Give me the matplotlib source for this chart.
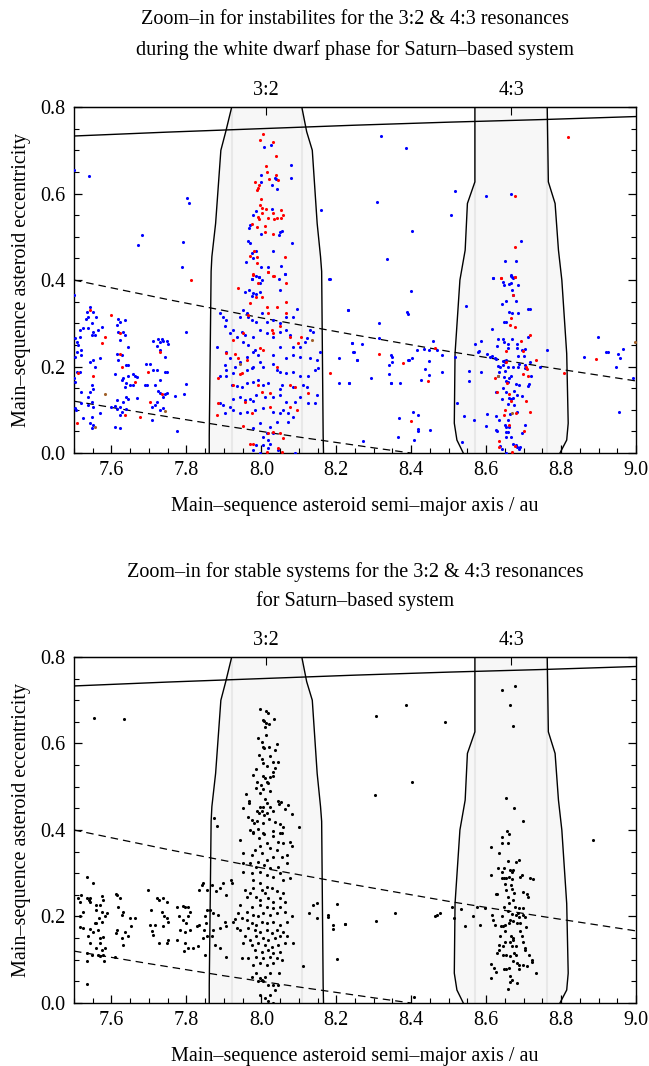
import numpy as np
import matplotlib
matplotlib.use('Agg')
import matplotlib.pyplot as plt
from matplotlib.ticker import MultipleLocator

plt.rcParams['font.family'] = ['Liberation Serif', 'DejaVu Serif']
plt.rcParams['mathtext.fontset'] = 'stix'

# ---- guide curves (semi-major axis / au, eccentricity) ----
peri_a = [7.5, 7.75, 8.0, 8.25, 8.5, 8.75, 9.0]
peri_e = [0.733, 0.742, 0.750, 0.758, 0.765, 0.771, 0.778]
apo_hi_a = [7.5, 7.75, 8.0, 8.25, 8.5, 8.75, 9.0]
apo_hi_e = [0.400, 0.355, 0.3125, 0.273, 0.235, 0.200, 0.1667]
apo_lo_a = [7.5, 7.7, 7.9, 8.1, 8.3, 8.4]
apo_lo_e = [0.120, 0.091, 0.063, 0.037, 0.012, 0.0]

# ---- resonance regions ----
res32_e = [0.0, 0.04, 0.42, 0.454, 0.531, 0.70, 0.743, 0.80]
res32_left = [7.861, 7.861, 7.866, 7.868, 7.878, 7.892, 7.905, 7.921]
res32_right = [8.166, 8.165, 8.161, 8.158, 8.149, 8.136, 8.121, 8.108]
res43_e = [0.0, 0.03, 0.069, 0.23, 0.40, 0.469, 0.577, 0.627, 0.80]
res43_left = [8.539, 8.522, 8.515, 8.517, 8.530, 8.544, 8.550, 8.570, 8.570]
res43_right = [8.797, 8.815, 8.819, 8.815, 8.802, 8.793, 8.784, 8.766, 8.763]
res_centre = [8.012, 8.667]
res_labels = ['3:2', '4:3']

# ---- top panel: unstable during white dwarf phase ----
top_blue = [
  (7.500,0.365),(7.534,0.327),(7.543,0.338),(7.538,0.315),(7.551,0.327),(7.559,0.315),(7.532,0.311),
  (7.525,0.288),(7.516,0.284),(7.547,0.300),(7.538,0.288),(7.551,0.280),(7.565,0.284),(7.576,0.292),
  (7.547,0.273),(7.556,0.273),(7.516,0.269),(7.503,0.265),(7.507,0.257),(7.511,0.250),(7.520,0.238),
  (7.507,0.234),(7.503,0.223),(7.520,0.226),(7.551,0.215),(7.543,0.211),(7.569,0.219),(7.556,0.200),
  (7.507,0.188),(7.516,0.188),(7.500,0.173),(7.503,0.165),(7.547,0.157),(7.550,0.149),(7.520,0.142),
  (7.543,0.142),(7.538,0.130),(7.547,0.119),(7.520,0.115),(7.538,0.111),(7.551,0.107),(7.503,0.103),
  (7.505,0.099),(7.525,0.080),(7.547,0.084),(7.543,0.069),(7.551,0.065),(7.547,0.057),(7.569,0.092),
  (7.618,0.311),(7.623,0.304),(7.636,0.307),(7.614,0.296),(7.618,0.280),(7.631,0.280),(7.636,0.273),
  (7.623,0.261),(7.645,0.246),(7.614,0.230),(7.627,0.226),(7.618,0.216),(7.640,0.203),(7.645,0.203),
  (7.609,0.183),(7.631,0.173),(7.645,0.178),(7.658,0.183),(7.663,0.177),(7.667,0.175),(7.627,0.169),
  (7.640,0.161),(7.649,0.157),(7.636,0.152),(7.658,0.157),(7.614,0.122),(7.631,0.119),(7.640,0.130),
  (7.645,0.126),(7.667,0.128),(7.600,0.107),(7.609,0.109),(7.623,0.106),(7.614,0.101),(7.627,0.095),
  (7.640,0.101),(7.623,0.088),(7.609,0.061),(7.623,0.057),
  (7.710,0.260),(7.725,0.263),(7.734,0.263),(7.738,0.260),(7.747,0.260),(7.729,0.257),(7.752,0.252),
  (7.721,0.247),(7.729,0.238),(7.743,0.221),(7.692,0.205),(7.703,0.206),(7.712,0.193),(7.721,0.192),
  (7.743,0.188),(7.747,0.188),(7.689,0.157),(7.694,0.157),(7.729,0.169),(7.716,0.157),(7.725,0.144),
  (7.729,0.139),(7.743,0.136),(7.747,0.138),(7.769,0.132),(7.738,0.130),(7.707,0.107),(7.716,0.111),
  (7.721,0.119),(7.707,0.076),(7.729,0.099),(7.738,0.103),(7.774,0.051),(7.794,0.136),(7.799,0.159),
  (7.799,0.281),
  (7.974,0.402),(7.987,0.409),(7.995,0.406),(8.001,0.400),(7.996,0.392),(8.063,0.415),(8.050,0.378),
  (7.956,0.373),(7.968,0.377),(7.979,0.371),(7.974,0.363),(7.987,0.368),(7.996,0.373),(7.952,0.331),
  (7.961,0.324),(7.943,0.315),(7.965,0.315),(7.974,0.307),(7.987,0.304),(8.001,0.323),(8.014,0.304),
  (8.032,0.307),(8.050,0.300),(8.067,0.315),(8.085,0.315),(8.094,0.334),(7.890,0.324),(7.899,0.315),
  (7.907,0.307),(7.903,0.294),(7.925,0.284),(7.916,0.277),(7.934,0.269),(7.948,0.280),(7.956,0.273),
  (7.952,0.257),(7.965,0.250),(7.979,0.269),(7.996,0.284),(8.014,0.277),(8.032,0.269),(8.050,0.280),
  (8.067,0.284),(8.076,0.273),(8.085,0.246),(8.103,0.246),(8.121,0.265),(8.130,0.284),(8.139,0.280),
  (8.117,0.257),(7.881,0.246),(7.907,0.234),(7.916,0.219),(7.903,0.203),(7.907,0.192),(7.930,0.200),
  (7.943,0.211),(7.961,0.223),(7.979,0.234),(7.992,0.226),(7.983,0.238),(7.996,0.211),(8.005,0.200),
  (8.032,0.226),(8.050,0.246),(8.067,0.219),(8.085,0.226),(8.103,0.223),(8.130,0.219),(8.148,0.215),
  (8.156,0.234),(7.890,0.177),(7.907,0.178),(7.925,0.184),(7.961,0.192),(7.974,0.196),(7.979,0.198),
  (8.032,0.207),(8.041,0.192),(8.050,0.188),(8.067,0.184),(8.085,0.188),(8.103,0.177),(8.125,0.178),
  (8.143,0.192),(8.152,0.196),(7.921,0.157),(7.934,0.155),(7.948,0.153),(7.961,0.161),(7.979,0.165),
  (7.992,0.169),(8.005,0.157),(8.019,0.163),(8.050,0.149),(8.054,0.157),(8.085,0.152),(8.112,0.157),
  (8.121,0.153),(7.890,0.115),(7.899,0.111),(7.916,0.107),(7.925,0.126),(7.943,0.129),(7.956,0.122),
  (7.970,0.126),(7.979,0.121),(7.987,0.134),(8.010,0.130),(8.032,0.130),(8.050,0.134),(8.067,0.119),
  (8.090,0.119),(8.103,0.130),(8.125,0.115),(8.143,0.115),(8.148,0.134),(7.903,0.092),(7.925,0.099),
  (7.943,0.092),(7.961,0.095),(7.983,0.099),(8.005,0.103),(8.032,0.095),(8.050,0.092),(8.059,0.099),
  (8.072,0.092),(8.085,0.084),(8.072,0.072),(8.041,0.072),(8.023,0.061),(7.996,0.070),(7.979,0.057),
  (8.014,0.046),(8.005,0.038),(8.019,0.030),(7.987,0.019),(8.005,0.019),(7.979,0.007),(7.996,0.001),
  (8.019,0.011),(8.045,0.007),(8.090,0.001),(8.023,0.022),(8.032,0.046),
  (8.181,0.402),(8.232,0.331),(8.241,0.254),(8.245,0.234),(8.254,0.215),(8.208,0.219),(8.206,0.161),
  (8.235,0.161),
  (7.500,0.654),(7.541,0.641),(7.681,0.504),(7.672,0.481),(7.801,0.590),(7.808,0.579),(7.790,0.487),
  (7.789,0.431),(8.008,0.708),(8.025,0.712),(8.078,0.665),(8.078,0.635),(8.000,0.644),(8.000,0.626),
  (8.036,0.637),(8.038,0.633),(8.028,0.620),(8.043,0.610),(7.986,0.560),(8.028,0.564),(7.977,0.550),
  (7.970,0.527),(7.968,0.521),(7.998,0.506),(8.050,0.512),(8.056,0.514),(8.047,0.504),(8.083,0.485),
  (7.965,0.491),(7.970,0.486),(7.976,0.463),(7.979,0.451),(7.986,0.468),(8.030,0.467),(7.960,0.442),
  (7.998,0.429),(8.019,0.429),(8.053,0.432),(8.063,0.415),(7.974,0.402),(7.994,0.406),(8.047,0.402),
  (8.159,0.562),(8.182,0.402),
  (8.319,0.733),(8.387,0.705),(8.516,0.607),(8.310,0.580),(8.599,0.594),(8.667,0.599),(8.506,0.550),
  (8.403,0.513),(8.693,0.490),(8.335,0.449),(8.649,0.444),(8.680,0.443),(8.618,0.404),(8.667,0.411),
  (8.671,0.405),
  (8.232,0.331),(8.242,0.254),(8.247,0.233),(8.254,0.215),(8.270,0.252),(8.235,0.161),(8.292,0.173),
  (8.315,0.301),(8.315,0.265),(8.342,0.204),(8.346,0.227),(8.350,0.223),(8.350,0.211),(8.342,0.183),
  (8.345,0.163),(8.345,0.161),(8.370,0.163),(8.399,0.375),(8.389,0.327),(8.392,0.321),(8.391,0.215),
  (8.394,0.214),(8.401,0.219),(8.415,0.238),(8.435,0.240),(8.448,0.239),(8.458,0.260),(8.447,0.213),
  (8.437,0.194),(8.448,0.181),(8.425,0.169),(8.481,0.227),(8.483,0.188),(8.469,0.238),(8.367,0.080),
  (8.365,0.036),(8.404,0.095),(8.417,0.089),(8.418,0.056),(8.418,0.050),(8.450,0.054),(8.408,0.030),
  (8.272,0.028),
  (8.546,0.341),(8.517,0.223),(8.523,0.116),(8.540,0.086),(8.535,0.026),(8.568,0.076),(8.555,0.190),
  (8.553,0.167),(8.570,0.251),(8.586,0.258),(8.578,0.234),(8.582,0.235),(8.585,0.187),(8.601,0.091),
  (8.600,0.063),(8.602,0.229),
  (8.618,0.404),(8.647,0.388),(8.646,0.396),(8.666,0.410),(8.670,0.406),(8.661,0.391),(8.666,0.392),
  (8.684,0.388),(8.669,0.377),(8.672,0.365),(8.653,0.351),(8.681,0.351),(8.641,0.344),(8.661,0.327),
  (8.670,0.324),(8.684,0.324),(8.711,0.333),(8.718,0.332),(8.648,0.304),(8.653,0.302),(8.616,0.287),
  (8.632,0.263),(8.644,0.264),(8.648,0.257),(8.669,0.263),(8.659,0.251),(8.683,0.252),(8.657,0.244),
  (8.682,0.244),(8.711,0.268),(8.628,0.247),(8.695,0.238),(8.705,0.240),(8.702,0.225),(8.623,0.219),
  (8.627,0.217),(8.610,0.222),(8.616,0.224),(8.644,0.213),(8.651,0.210),(8.652,0.215),(8.645,0.203),
  (8.632,0.201),(8.637,0.198),(8.658,0.198),(8.673,0.200),(8.686,0.224),(8.689,0.207),(8.684,0.200),
  (8.705,0.204),(8.717,0.211),(8.744,0.198),(8.763,0.238),(8.705,0.197),(8.635,0.188),(8.650,0.190),
  (8.631,0.179),(8.647,0.175),(8.662,0.174),(8.667,0.178),(8.654,0.167),(8.658,0.165),(8.720,0.179),
  (8.644,0.150),(8.681,0.160),(8.687,0.157),(8.715,0.159),(8.711,0.156),(8.625,0.142),(8.654,0.140),
  (8.675,0.144),(8.683,0.134),(8.695,0.132),(8.641,0.124),(8.661,0.127),(8.667,0.125),(8.672,0.127),
  (8.658,0.113),(8.675,0.112),(8.682,0.095),(8.665,0.090),(8.625,0.086),(8.634,0.076),(8.659,0.077),
  (8.650,0.066),(8.653,0.061),(8.662,0.061),(8.703,0.066),(8.625,0.053),(8.628,0.052),(8.653,0.048),
  (8.658,0.048),(8.696,0.047),(8.652,0.038),(8.666,0.036),(8.673,0.021),(8.679,0.019),(8.683,0.015),
  (8.687,0.010),(8.690,0.013),(8.636,0.016),(8.652,0.001),(8.642,0.010),
  (8.862,0.223),(8.898,0.268),(8.920,0.233),(8.926,0.233),(8.952,0.228),(8.957,0.219),(8.964,0.241),
  (8.947,0.200),(8.993,0.174),(8.955,0.095),
]
top_red = [
  (7.543,0.331),(7.576,0.255),(7.511,0.186),(7.551,0.177),(7.583,0.269),(7.507,0.070),
  (7.600,0.319),(7.623,0.277),(7.623,0.230),(7.627,0.200),(7.636,0.088),(7.676,0.083),(7.663,0.165),
  (7.729,0.234),(7.698,0.188),(7.734,0.136),(7.811,0.400),(7.703,0.119),
  (7.979,0.411),(7.992,0.392),(8.019,0.419),(8.032,0.409),(8.067,0.392),(7.939,0.381),(7.987,0.360),
  (7.970,0.346),(8.001,0.361),(8.019,0.324),(8.014,0.338),(8.065,0.350),(8.041,0.338),(8.067,0.324),
  (7.965,0.319),(7.925,0.261),(7.952,0.277),(7.996,0.242),(8.005,0.238),(8.032,0.277),(8.028,0.284),
  (8.050,0.293),(8.076,0.269),(8.107,0.269),(8.099,0.254),(7.907,0.232),(7.930,0.230),(7.939,0.219),
  (7.961,0.215),(7.948,0.184),(8.041,0.200),(7.885,0.173),(7.925,0.157),(7.992,0.157),(8.001,0.142),
  (8.023,0.138),(8.076,0.157),(8.090,0.153),(8.125,0.139),(7.943,0.183),(7.881,0.088),(7.885,0.115),
  (7.956,0.119),(7.974,0.092),(8.023,0.107),(8.076,0.107),(8.094,0.099),(7.952,0.062),(8.019,0.047),
  (8.032,0.049),(8.050,0.046),(8.059,0.034),(7.970,0.022),(7.979,0.021),(8.014,0.003),(8.045,0.011),
  (8.054,0.003),(8.183,0.184),
  (8.005,0.738),(7.997,0.724),(8.030,0.718),(8.038,0.687),(8.012,0.663),(8.016,0.650),(8.021,0.634),
  (8.039,0.642),(8.044,0.632),(7.984,0.627),(7.993,0.619),(7.991,0.612),(7.988,0.609),(8.000,0.588),
  (7.997,0.573),(8.003,0.567),(8.012,0.565),(8.002,0.556),(8.030,0.556),(8.052,0.562),(8.057,0.550),
  (7.992,0.546),(7.995,0.541),(8.019,0.543),(8.033,0.541),(8.041,0.543),(8.053,0.543),(7.974,0.529),
  (7.988,0.522),(8.011,0.526),(8.009,0.512),(8.030,0.506),(8.064,0.454),(7.980,0.468),(7.970,0.456),
  (7.988,0.454),(7.988,0.440),(8.018,0.419),(7.979,0.413),(8.033,0.409),
  (8.818,0.731),(8.678,0.594),(8.676,0.477),(8.640,0.404),(8.676,0.408),
  (8.315,0.228),(8.377,0.209),(8.446,0.167),(8.399,0.075),(8.463,0.242),(8.640,0.405),(8.677,0.408),
  (8.671,0.366),(8.667,0.313),(8.665,0.295),(8.677,0.291),(8.716,0.274),(8.694,0.258),(8.653,0.236),
  (8.698,0.236),(8.654,0.211),(8.734,0.215),(8.706,0.200),(8.710,0.194),(8.712,0.179),(8.698,0.183),
  (8.624,0.173),(8.655,0.163),(8.628,0.142),(8.662,0.136),(8.666,0.121),(8.706,0.120),(8.649,0.100),
  (8.680,0.093),(8.648,0.087),(8.662,0.064),(8.700,0.050),(8.633,0.027),(8.635,0.013),(8.669,0.003),
  (8.677,0.016),(8.807,0.184),(8.892,0.218),(8.717,0.096),
]
top_brown = [(7.583,0.136),(7.556,0.061),(7.743,0.098),(7.943,0.206),(8.134,0.261),
             (8.632,0.178),(8.669,0.093),(8.998,0.256)]

# ---- bottom panel: stable systems ----
bot_black = [
  (7.554,0.660),(7.633,0.656),
  (7.997,0.679),(8.012,0.674),(8.019,0.671),(8.004,0.654),(8.007,0.651),(8.013,0.647),(8.021,0.645),
  (8.034,0.657),(8.010,0.637),(8.013,0.620),(7.992,0.612),(8.001,0.604),(8.043,0.599),(8.005,0.591),
  (8.008,0.589),(8.020,0.591),(8.037,0.585),(7.995,0.574),(8.001,0.564),(8.023,0.571),(8.005,0.556),
  (8.030,0.557),(8.045,0.557),(8.016,0.547),(8.037,0.544),(8.032,0.535),(7.986,0.541),(7.979,0.527),
  (8.004,0.524),(8.009,0.521),(8.023,0.522),(7.989,0.512),(8.014,0.512),(8.019,0.508),(7.999,0.503),
  (8.032,0.524),(7.986,0.497),(8.005,0.495),(8.023,0.491),(7.996,0.485),(7.959,0.484),(8.010,0.471),
  (8.014,0.462),(7.967,0.468),(7.968,0.462),(8.045,0.467),(8.052,0.464),(8.048,0.461),(8.072,0.457),
  (7.952,0.450),(7.996,0.452),(8.005,0.454),(8.023,0.452),(8.032,0.444),(8.063,0.448),(8.083,0.437),
  (7.989,0.443),(7.995,0.439),(8.002,0.443),(8.007,0.435),(8.014,0.439),(7.965,0.430),(7.974,0.423),
  (7.980,0.417),(7.988,0.420),(8.004,0.416),(8.021,0.425),(8.037,0.418),(8.050,0.414),(8.059,0.408),
  (8.101,0.407),(7.873,0.427),(7.883,0.410),(7.979,0.396),(7.992,0.402),(8.005,0.393),(8.032,0.397),
  (8.054,0.393),
  (7.534,0.292),(7.550,0.277),(7.511,0.242),(7.520,0.250),(7.516,0.234),(7.534,0.242),(7.541,0.238),
  (7.544,0.242),(7.543,0.234),(7.560,0.227),(7.569,0.227),(7.576,0.248),(7.578,0.238),(7.559,0.215),
  (7.574,0.211),(7.587,0.208),(7.583,0.200),(7.568,0.196),(7.516,0.201),(7.525,0.211),(7.556,0.184),
  (7.560,0.184),(7.574,0.188),(7.516,0.175),(7.523,0.173),(7.543,0.171),(7.551,0.165),(7.565,0.169),
  (7.538,0.155),(7.569,0.150),(7.578,0.152),(7.543,0.138),(7.569,0.138),(7.583,0.127),(7.560,0.127),
  (7.574,0.123),(7.536,0.115),(7.547,0.111),(7.565,0.111),(7.569,0.109),(7.578,0.111),(7.534,0.096),
  (7.580,0.096),(7.536,0.044),
  (7.612,0.252),(7.616,0.250),(7.623,0.242),(7.618,0.223),(7.631,0.211),(7.629,0.204),(7.649,0.196),
  (7.663,0.196),(7.614,0.169),(7.612,0.161),(7.636,0.165),(7.627,0.150),(7.651,0.177),(7.645,0.154),
  (7.630,0.134),(7.609,0.107),
  (7.698,0.261),(7.705,0.214),(7.704,0.181),(7.716,0.181),(7.707,0.167),(7.712,0.157),(7.728,0.138),
  (7.721,0.242),(7.728,0.238),(7.738,0.242),(7.749,0.234),(7.734,0.211),(7.740,0.200),(7.747,0.196),
  (7.737,0.177),(7.752,0.188),(7.749,0.138),(7.752,0.146),
  (7.776,0.221),(7.790,0.224),(7.796,0.223),(7.805,0.221),(7.810,0.211),(7.805,0.200),(7.779,0.200),
  (7.790,0.192),(7.799,0.184),(7.783,0.169),(7.796,0.165),(7.810,0.169),(7.776,0.146),(7.796,0.138),
  (7.794,0.121),(7.805,0.127),(7.818,0.127),(7.827,0.177),(7.834,0.181),(7.832,0.132),(7.834,0.261),
  (7.841,0.273),(7.845,0.278),(7.854,0.261),(7.850,0.111),(7.854,0.215),(7.850,0.200),(7.852,0.184),
  (7.847,0.169),(7.854,0.154),(7.843,0.150),
  (7.868,0.273),(7.879,0.258),(7.890,0.265),(7.899,0.277),(7.918,0.285),(7.921,0.277),(7.907,0.250),
  (7.863,0.215),(7.872,0.208),(7.885,0.204),(7.903,0.188),(7.907,0.177),(7.890,0.173),(7.872,0.169),
  (7.868,0.154),(7.876,0.134),(7.890,0.127),(7.907,0.107),(7.925,0.188),(7.930,0.194),(7.943,0.377),
  (7.950,0.346),(7.952,0.323),(7.950,0.304),(7.956,0.261),(7.961,0.246),(7.943,0.227),(7.939,0.208),
  (7.948,0.196),(7.934,0.173),(7.943,0.169),
  (7.970,0.400),(7.979,0.392),(7.995,0.381),(8.007,0.391),(8.032,0.386),(8.050,0.394),(8.045,0.373),
  (8.014,0.369),(7.996,0.362),(7.983,0.354),(8.001,0.346),(8.023,0.358),(8.041,0.354),(8.059,0.369),
  (8.076,0.373),(8.081,0.362),(8.068,0.342),(8.054,0.338),(8.032,0.338),(8.014,0.331),(7.992,0.327),
  (7.974,0.342),(7.970,0.323),(7.987,0.315),(8.007,0.319),(8.023,0.311),(8.045,0.315),(8.068,0.323),
  (8.050,0.300),(8.032,0.292),(8.014,0.296),(7.996,0.304),(7.974,0.300),(8.076,0.288),(8.059,0.285),
  (7.979,0.285),(7.996,0.277),(8.014,0.269),(8.001,0.261),(8.010,0.254),(8.028,0.265),(8.041,0.258),
  (8.059,0.254),(7.979,0.265),(7.970,0.254),(7.987,0.246),(7.996,0.238),(8.019,0.242),(8.032,0.234),
  (8.050,0.242),(8.063,0.234),(8.050,0.223),(8.032,0.219),(8.014,0.223),(7.996,0.227),(7.974,0.223),
  (7.961,0.211),(7.979,0.204),(7.992,0.200),(8.005,0.208),(8.023,0.204),(8.041,0.208),(8.063,0.211),
  (8.081,0.200),(7.961,0.192),(7.974,0.184),(7.987,0.181),(8.001,0.188),(8.014,0.184),(8.032,0.188),
  (8.050,0.181),(8.068,0.188),(7.965,0.173),(7.983,0.169),(7.996,0.165),(8.014,0.169),(8.028,0.161),
  (8.041,0.169),(8.059,0.165),(8.068,0.154),(8.050,0.154),(8.036,0.150),(8.019,0.146),(8.005,0.150),
  (7.987,0.154),(7.970,0.146),(7.956,0.154),(7.952,0.138),(7.974,0.134),(7.992,0.138),(8.010,0.134),
  (8.028,0.130),(8.045,0.134),(8.063,0.138),(8.085,0.138),(7.983,0.123),(8.001,0.119),(8.019,0.123),
  (8.032,0.115),(8.050,0.119),(7.948,0.104),(7.965,0.104),(7.987,0.107),(8.005,0.104),(8.023,0.107),
  (8.041,0.104),(8.054,0.100),(7.979,0.088),(7.996,0.092),(8.014,0.088),(8.032,0.092),(7.974,0.061),
  (7.987,0.069),(7.996,0.057),(8.001,0.054),(8.010,0.061),(8.023,0.069),(7.992,0.050),(8.005,0.050),
  (8.019,0.042),(8.032,0.042),(8.045,0.042),(8.036,0.030),(8.023,0.019),(7.996,0.019),(8.010,0.011),
  (8.019,0.004),(8.032,0.001),(8.112,0.086),(8.048,0.069),
  (8.128,0.209),(8.139,0.227),(8.149,0.231),(8.148,0.196),(8.179,0.204),(8.179,0.198),(8.203,0.229),
  (8.192,0.181),(8.222,0.182),(8.190,0.171),(8.201,0.102),
  (8.305,0.664),(8.386,0.689),(8.491,0.649),(8.643,0.724),(8.676,0.732),(8.664,0.688),(8.673,0.640),
  (8.403,0.511),(8.304,0.482),(8.653,0.474),(8.675,0.450),(8.698,0.420),(8.885,0.377),
  (8.656,0.397),(8.660,0.390),(8.643,0.383),(8.643,0.370),(8.657,0.370),(8.614,0.361),(8.635,0.346),
  (8.659,0.329),(8.687,0.330),(8.681,0.325),(8.632,0.312),(8.647,0.313),(8.641,0.303),(8.664,0.308),
  (8.672,0.308),(8.668,0.303),(8.613,0.296),(8.695,0.296),(8.691,0.291),(8.641,0.288),(8.647,0.289),
  (8.652,0.290),(8.662,0.291),(8.669,0.286),(8.716,0.289),(8.726,0.286),(8.651,0.275),(8.666,0.272),
  (8.668,0.264),(8.652,0.262),(8.625,0.253),(8.630,0.251),(8.659,0.246),(8.675,0.254),(8.699,0.256),
  (8.710,0.253),(8.711,0.246),(8.673,0.239),(8.662,0.231),(8.647,0.223),(8.678,0.221),(8.687,0.219),
  (8.698,0.219),(8.508,0.223),(8.533,0.217),(8.564,0.202),(8.598,0.219),(8.575,0.223),(8.463,0.200),
  (8.468,0.204),(8.477,0.208),(8.357,0.208),(8.305,0.190),(8.222,0.182),(8.514,0.196),(8.544,0.179),
  (8.584,0.181),(8.615,0.204),(8.619,0.192),(8.624,0.181),(8.643,0.200),(8.659,0.212),(8.669,0.206),
  (8.681,0.204),(8.685,0.208),(8.689,0.199),(8.699,0.203),(8.705,0.199),(8.707,0.175),(8.664,0.192),
  (8.673,0.189),(8.661,0.185),(8.640,0.177),(8.645,0.179),(8.651,0.180),(8.691,0.186),(8.682,0.185),
  (8.691,0.166),(8.651,0.166),(8.636,0.154),(8.667,0.154),(8.671,0.150),(8.695,0.154),(8.649,0.142),
  (8.664,0.140),(8.673,0.145),(8.635,0.135),(8.646,0.132),(8.668,0.131),(8.681,0.132),(8.698,0.142),
  (8.704,0.127),(8.705,0.123),(8.633,0.123),(8.630,0.115),(8.645,0.112),(8.652,0.112),(8.663,0.109),
  (8.675,0.115),(8.679,0.112),(8.715,0.112),(8.673,0.098),(8.683,0.092),(8.722,0.100),(8.722,0.094),
  (8.689,0.089),(8.698,0.089),(8.708,0.086),(8.614,0.091),(8.620,0.081),(8.625,0.072),(8.647,0.079),
  (8.652,0.079),(8.661,0.081),(8.688,0.079),(8.732,0.069),(8.613,0.057),(8.663,0.063),(8.668,0.054),
  (8.663,0.048),(8.682,0.046),(8.658,0.032),(8.408,0.013),
]

TITLE_TOP = ['Zoom\u2013in for instabilites for the 3:2 & 4:3 resonances',
             'during the white dwarf phase for Saturn\u2013based system']
TITLE_BOT = ['Zoom\u2013in for stable systems for the 3:2 & 4:3 resonances',
             'for Saturn\u2013based system']
XLAB = 'Main\u2013sequence asteroid semi\u2013major axis / au'
YLAB = 'Main\u2013sequence asteroid eccentricity'
FS = 14.5


def draw_panel(ax, groups):
  for left, right, ee in [(res32_left, res32_right, res32_e),
                          (res43_left, res43_right, res43_e)]:
    ax.fill_betweenx(ee, left, right, color='#f7f7f7', lw=0, zorder=0)
    ax.axvline(left[-1], color='#e8e8e8', lw=1.5, zorder=0.5)
    ax.axvline(right[-1], color='#e8e8e8', lw=1.5, zorder=0.5)
    ax.plot(left, ee, color='k', lw=1.0, zorder=1)
    ax.plot(right, ee, color='k', lw=1.0, zorder=1)
  ax.plot(peri_a, peri_e, color='k', lw=1.0, zorder=1)
  ax.plot(apo_hi_a, apo_hi_e, color='k', lw=0.9, ls=(0, (6, 4)), zorder=1)
  ax.plot(apo_lo_a, apo_lo_e, color='k', lw=0.9, ls=(0, (6, 4)), zorder=1)
  for pts, col in groups:
    pts = np.array(pts)
    ax.scatter(pts[:, 0], pts[:, 1], s=5, c=col, linewidths=0, zorder=3)
  ax.set_xlim(7.5, 9.0)
  ax.set_ylim(0.0, 0.8)
  ax.xaxis.set_minor_locator(MultipleLocator(0.05))
  ax.yaxis.set_major_locator(MultipleLocator(0.2))
  ax.yaxis.set_minor_locator(MultipleLocator(0.05))
  ax.set_xticks([7.6, 7.8, 8.0, 8.2, 8.4, 8.6, 8.8, 9.0])
  ax.tick_params(which='both', direction='in', top=False, right=True, labelsize=FS)
  ax.tick_params(which='major', length=6, width=0.9, pad=6)
  ax.tick_params(which='minor', length=3.5, width=0.8)
  for sp in ax.spines.values():
    sp.set_linewidth(1.0)
  sec = ax.secondary_xaxis('top')
  sec.set_xticks(res_centre, labels=res_labels)
  sec.tick_params(direction='in', length=6, labelsize=FS, pad=5)
  ax.set_xlabel(XLAB, fontsize=FS, labelpad=12)
  ax.set_ylabel(YLAB, fontsize=FS, labelpad=7)


fig = plt.figure(figsize=(6.49, 10.66), dpi=100)
ax1 = fig.add_axes([0.114, 0.575, 0.866, 0.3246])
ax2 = fig.add_axes([0.114, 0.0591, 0.866, 0.3246])
draw_panel(ax1, [(top_blue, '#0000ff'), (top_red, '#ff0000'), (top_brown, '#a0602a')])
draw_panel(ax2, [(bot_black, 'k')])

cx = 0.547
fig.text(cx, 1 - 20 / 1066, TITLE_TOP[0], ha='center', va='center', fontsize=FS)
fig.text(cx, 1 - 50 / 1066, TITLE_TOP[1], ha='center', va='center', fontsize=FS)
fig.text(cx, 1 - 572 / 1066, TITLE_BOT[0], ha='center', va='center', fontsize=FS)
fig.text(cx, 1 - 601 / 1066, TITLE_BOT[1], ha='center', va='center', fontsize=FS)

fig.savefig('out.png', dpi=100)
